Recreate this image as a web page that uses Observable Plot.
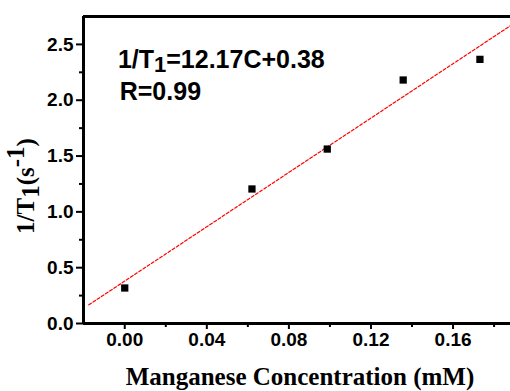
<!DOCTYPE html>
<html>
<head>
<meta charset="utf-8">
<script src="https://cdn.jsdelivr.net/npm/d3@7"></script>
<script src="https://cdn.jsdelivr.net/npm/@observablehq/plot@0.6"></script>
<style>
  html, body { margin: 0; padding: 0; background: #fff; }
  #chart svg { display: block; }
</style>
</head>
<body>
<div id="chart"></div>
<script>
// Data
const concentration = [0, 0.062, 0.0987, 0.1357, 0.1731];   // mM
const relaxRate = [0.318, 1.205, 1.5625, 2.181, 2.366];     // 1/T1 (s^-1)
const fitSlope = 12.17;
const fitIntercept = 0.38;
const fitRange = [-0.0175, 0.19];
const xTicks = [0, 0.04, 0.08, 0.12, 0.16];
const xMinorTicks = [0.02, 0.06, 0.10, 0.14, 0.18];
const yTicks = [0, 0.5, 1.0, 1.5, 2.0, 2.5];
const yMinorTicks = [0.25, 0.75, 1.25, 1.75, 2.25];

const points = concentration.map((c, i) => ({c, r: relaxRate[i]}));
const fitLine = fitRange.map(c => ({c, r: fitSlope * c + fitIntercept}));

const xDomain = [-0.0201, 0.188];
const yDomain = [0, 2.75];

const plot = Plot.plot({
  width: 510,
  height: 391,
  marginLeft: 83,
  marginRight: 0,
  marginTop: 16,
  marginBottom: 68,
  style: {background: "#fff", overflow: "visible"},
  x: {domain: xDomain, label: null},
  y: {domain: yDomain, label: null},
  marks: [
    Plot.line(fitLine, {x: "c", y: "r", stroke: "#ff0000", strokeWidth: 1.2, strokeDasharray: "3,2", clip: true}),
    Plot.dot(points, {x: "c", y: "r", symbol: "square", r: 4.1, fill: "#000", stroke: "none"}),
    Plot.axisX(xMinorTicks, {tickSize: 4, strokeWidth: 2, text: null}),
    Plot.axisX(xTicks, {tickSize: 6, strokeWidth: 2, tickPadding: 3, tickFormat: d3.format(".2f"),
      fontSize: 19, fontWeight: "bold", fontFamily: "'Liberation Sans', Arial, sans-serif", fill: "#000"}),
    Plot.axisY(yMinorTicks, {tickSize: 4, strokeWidth: 2, text: null}),
    Plot.axisY(yTicks, {tickSize: 7, strokeWidth: 2, tickPadding: 3, tickFormat: d3.format(".1f"),
      fontSize: 19, fontWeight: "bold", fontFamily: "'Liberation Sans', Arial, sans-serif", fill: "#000"}),
    Plot.ruleX([xDomain[0]], {stroke: "#000", strokeWidth: 3}),
    Plot.ruleY([yDomain[0]], {stroke: "#000", strokeWidth: 3}),
    Plot.ruleY([yDomain[1]], {stroke: "#000", strokeWidth: 3})
  ]
});

document.getElementById("chart").appendChild(plot);

const sx = plot.scale("x"), sy = plot.scale("y");
const svg = d3.select(plot);

// Fit equation annotation
const ann = svg.append("text")
  .attr("x", sx.apply(-0.0031)).attr("y", sy.apply(2.28))
  .attr("text-anchor", "start")
  .attr("font-family", "'Liberation Sans', Arial, sans-serif")
  .attr("font-weight", "bold").attr("font-size", 25).attr("fill", "#000");
ann.append("tspan").text("1/T");
ann.append("tspan").attr("dy", 4).attr("font-size", 22).text("1");
ann.append("tspan").attr("dy", -4).text("=12.17C+0.38");

svg.append("text")
  .attr("x", sx.apply(-0.0022)).attr("y", sy.apply(1.995))
  .attr("text-anchor", "start")
  .attr("font-family", "'Liberation Sans', Arial, sans-serif")
  .attr("font-weight", "bold").attr("font-size", 25).attr("fill", "#000")
  .text("R=0.99");

// Axis titles
svg.append("text")
  .attr("x", 300).attr("y", 385)
  .attr("text-anchor", "middle")
  .attr("font-family", "'Liberation Serif', 'Times New Roman', serif")
  .attr("font-weight", "bold").attr("font-size", 25).attr("fill", "#000")
  .text("Manganese Concentration (mM)");

const yt = svg.append("text")
  .attr("transform", "translate(34,186) rotate(-90)")
  .attr("text-anchor", "middle")
  .attr("font-family", "'Liberation Serif', 'Times New Roman', serif")
  .attr("font-weight", "bold").attr("font-size", 25).attr("fill", "#000");
yt.append("tspan").text("1/T");
yt.append("tspan").attr("dy", 5).text("1");
yt.append("tspan").attr("dy", -5).text("(s");
yt.append("tspan").attr("dy", -10).text("-1");
yt.append("tspan").attr("dy", 10).text(")");
</script>
</body>
</html>
